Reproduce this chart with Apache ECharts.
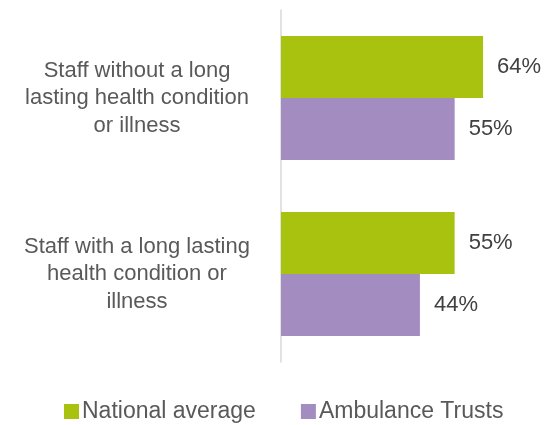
<!DOCTYPE html>
<html>
<head>
<meta charset="utf-8">
<script src="https://cdn.jsdelivr.net/npm/echarts@6/dist/echarts.min.js"></script>
<style>
  html, body { margin: 0; padding: 0; background: #fff; }
  #chart { width: 547px; height: 425px; }
</style>
</head>
<body>
<div id="chart"></div>
<script>
// Staff groups shown on the vertical axis (top to bottom)
const categories = [
  'Staff without a long\nlasting health condition\nor illness',
  'Staff with a long lasting\nhealth condition or\nillness'
];
const seriesNames = ['National average', 'Ambulance Trusts'];
const nationalAverage = [64, 55];
const ambulanceTrusts = [55, 44];
const colors = ['#A9C20F', '#A38CBF'];

const fontFamily = 'Arial, "Liberation Sans", sans-serif';

const labelStyle = {
  show: true,
  position: 'right',
  distance: 14,
  formatter: '{c}%',
  color: '#404040',
  fontFamily: fontFamily,
  fontSize: 22
};

const chart = echarts.init(document.getElementById('chart'), null, { renderer: 'canvas' });
chart.setOption({
  animation: false,
  backgroundColor: '#ffffff',
  grid: { left: 281, right: 45, top: 10, bottom: 63, containLabel: false },
  xAxis: {
    type: 'value',
    min: 0,
    max: 70,
    show: false,
    splitLine: { show: false }
  },
  yAxis: {
    type: 'category',
    data: categories,
    inverse: true,
    axisLine: { show: true, lineStyle: { color: '#d9d9d9', width: 1.5 } },
    axisTick: { show: false },
    axisLabel: {
      margin: 144,
      align: 'center',
      lineHeight: 27.5,
      color: '#595959',
      fontFamily: fontFamily,
      fontSize: 22
    }
  },
  legend: {
    data: seriesNames,
    left: 59,
    top: 395,
    icon: 'rect',
    itemWidth: 15,
    itemHeight: 15,
    itemGap: 45,
    textStyle: {
      color: '#595959',
      fontFamily: fontFamily,
      fontSize: 23,
      padding: [0, 0, 0, -2]
    }
  },
  series: [
    {
      name: seriesNames[0],
      type: 'bar',
      data: nationalAverage,
      itemStyle: { color: colors[0] },
      barGap: '0%',
      barCategoryGap: '29.5%',
      label: labelStyle
    },
    {
      name: seriesNames[1],
      type: 'bar',
      data: ambulanceTrusts,
      itemStyle: { color: colors[1] },
      barGap: '0%',
      barCategoryGap: '29.5%',
      label: labelStyle
    }
  ]
});
</script>
</body>
</html>
